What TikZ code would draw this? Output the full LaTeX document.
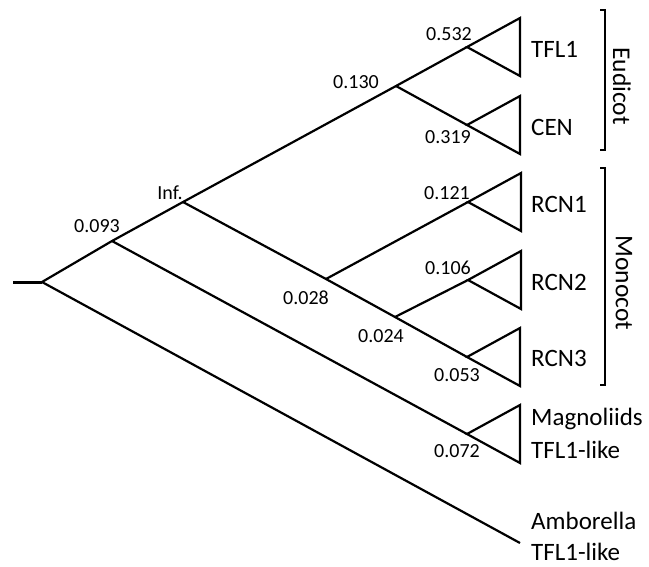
\documentclass[tikz,border=0pt]{standalone}
\usepackage{fontspec}
\setmainfont{Carlito}
\begin{document}
\begin{tikzpicture}[x=1pt,y=-1pt,
  branch/.style={line width=2.2pt,line join=miter},
  stub/.style={line width=3pt},
  bracketline/.style={line width=1.8pt},
  support/.style={inner sep=0pt,font=\fontsize{20}{24}\selectfont},
  taxon/.style={inner sep=0pt,anchor=base west,align=left,font=\fontsize{25}{33}\selectfont},
  group/.style={inner sep=0pt,rotate=-90,font=\fontsize{25.5}{30}\selectfont}]
\useasboundingbox (0,0) rectangle (649,566);

% internal nodes and tips of the tree
\coordinate (stubend) at (13,282);
\coordinate (root) at (42,282);
\coordinate (n093) at (112,241);
\coordinate (ninf) at (183,202);
\coordinate (n130) at (396,86);
\coordinate (tfl) at (467,47);
\coordinate (cen) at (467,125);
\coordinate (n028) at (326,279);
\coordinate (rcna) at (468,202);
\coordinate (n024) at (395,317);
\coordinate (rcnb) at (468,280);
\coordinate (rcnc) at (467,357);
\coordinate (mag) at (467,434);
\coordinate (amb) at (520,543);

% branches
\draw[stub] (stubend) -- (root);
\draw[branch] (root) -- (n093) -- (ninf) -- (n130) -- (tfl);
\draw[branch] (n130) -- (cen);
\draw[branch] (ninf) -- (n028) -- (n024) -- (rcnc);
\draw[branch] (n028) -- (rcna);
\draw[branch] (n024) -- (rcnb);
\draw[branch] (n093) -- (mag);
\draw[branch] (root) -- (amb);

% collapsed clades
\foreach \c in {tfl,cen,rcna,rcnb,rcnc,mag}
  \draw[branch] (\c) -- ++(53,-29) -- ++(0,58) -- cycle;

% support values
\node[support] (l093) at (97,226) {0.093};
\node[support] (linf) at (170,193) {Inf.};
\node[support] (l130) at (356,82) {0.130};
\node[support] (l532) at (449,34) {0.532};
\node[support] (l319) at (448,137) {0.319};
\node[support] (l121) at (447,193) {0.121};
\node[support] (l028) at (306,298) {0.028};
\node[support] (l106) at (448,268) {0.106};
\node[support] (l024) at (381,336) {0.024};
\node[support] (l053) at (457,375) {0.053};
\node[support] (l072) at (457,451) {0.072};

% taxon names (multi-line names are placed by their last baseline)
\node[taxon] (tTFL) at (531,57) {TFL1};
\node[taxon] (tCEN) at (531,135) {CEN};
\node[taxon] (tRCNa) at (531,212) {RCN1};
\node[taxon] (tRCNb) at (531,290) {RCN2};
\node[taxon] (tRCNc) at (531,366) {RCN3};
\node[taxon] (tMag) at (531,458) {Magnoliids\\TFL1-like};
\node[taxon] (tAmb) at (531,560) {Amborella\\[-2pt]TFL1-like};

% group brackets
\draw[bracketline] (600,10) -- (605,10) -- (605,150) -- (600,150);
\draw[bracketline] (600,168) -- (605,168) -- (605,385) -- (600,385);
\node[group] (gEu) at (622,86) {Eudicot};
\node[group] (gMo) at (624,283) {Monocot};
\end{tikzpicture}
\end{document}
